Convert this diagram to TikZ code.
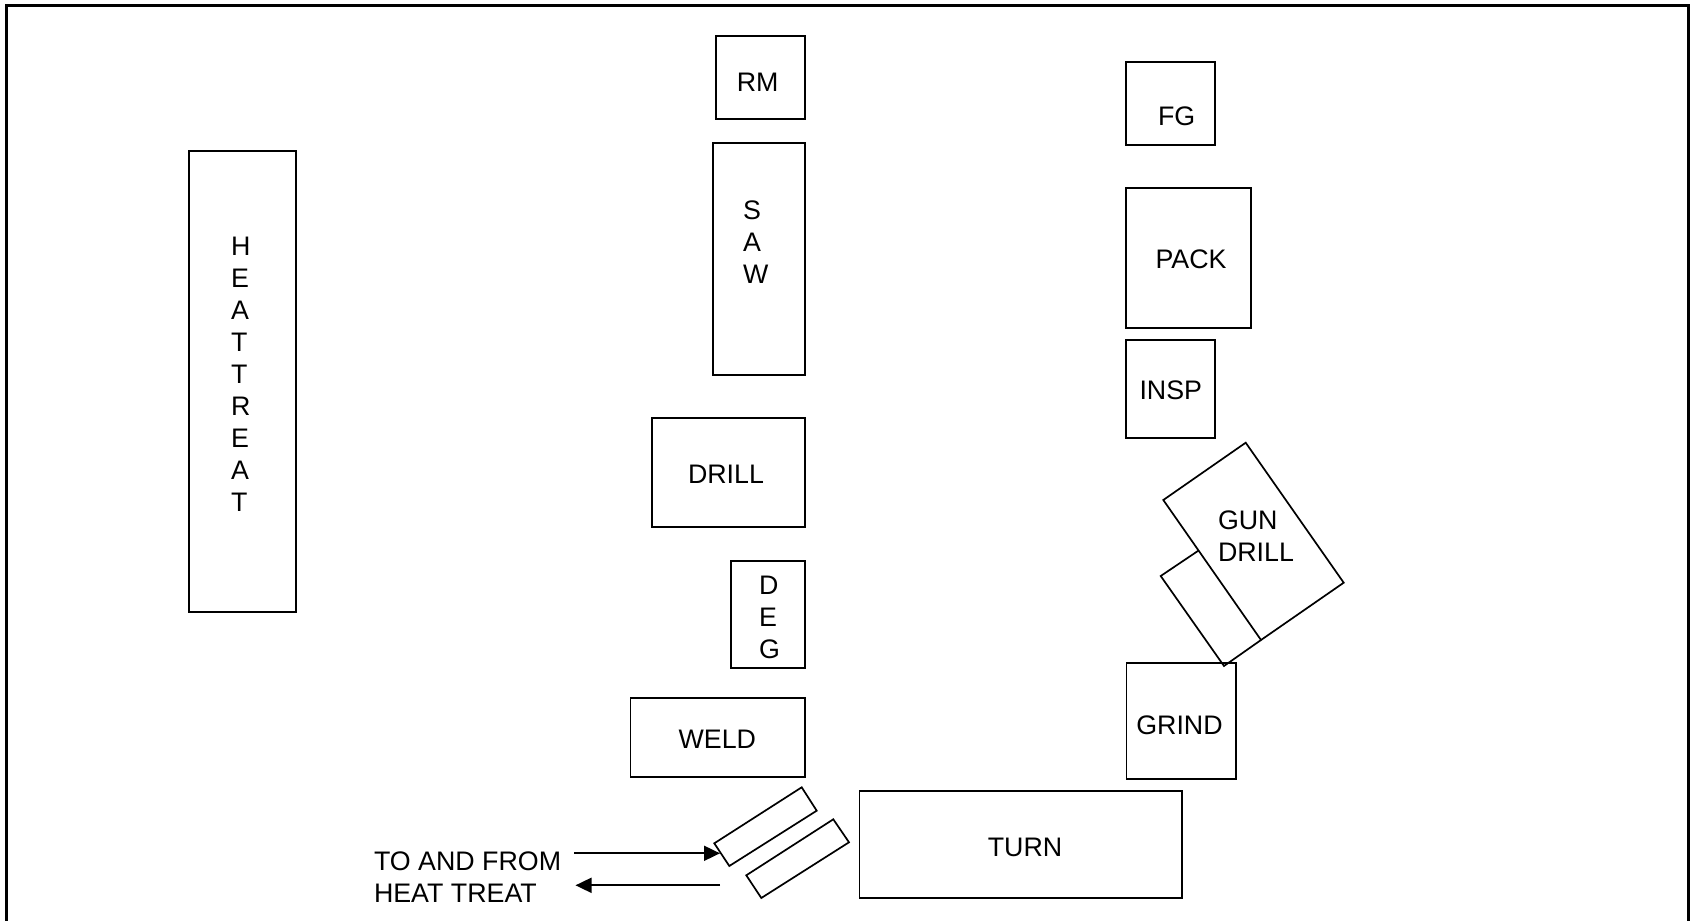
\documentclass[tikz,border=0pt]{standalone}
\usepackage{fontspec}
\setmainfont{Liberation Sans}
\usetikzlibrary{arrows.meta}
\tikzset{
  x=0.5pt,y=-0.5pt,
  box/.style={draw=black,line width=0.85pt,inner sep=0pt,outer sep=0pt,fill=none},
  lab/.style={inner sep=0pt,outer sep=0pt,align=center,font=\fontsize{13.4}{16}\selectfont,text=black},
  stack/.style={lab,align=left,anchor=west},
  outline/.style={draw=black,line width=0.85pt,line join=miter},
  flow/.style={draw=black,line width=0.9pt,-{Triangle[length=8pt,width=7.5pt]}},
}
\begin{document}
\begin{tikzpicture}
\useasboundingbox (0,0) rectangle (1693,921);
% frame (open at the bottom edge, cut by the page)
\draw[black,line width=1.3pt] (6.7,921) -- (6.7,5.5) -- (1688.3,5.5) -- (1688.3,921);
% boxes
\node[box,minimum width=44.5pt,minimum height=41.35pt] (rm) at (760.5,77.35) {};
\node[box,minimum width=46pt,minimum height=115.85pt] (saw) at (759,259.15) {};
\node[box,minimum width=53.5pt,minimum height=230.5pt] (heat) at (242.5,381.5) {};
\node[box,minimum width=44.5pt,minimum height=41.2pt] (fg) at (1170.5,103.5) {};
\node[box,minimum width=62.6pt,minimum height=70pt] (pack) at (1188.7,258) {};
\node[box,minimum width=44.5pt,minimum height=49pt] (insp) at (1170.5,389.3) {};
\node[box,minimum width=76.5pt,minimum height=54.8pt] (drill) at (728.5,472.5) {};
\node[box,minimum width=37.15pt,minimum height=53.5pt] (deg) at (767.85,614.2) {};
\node[box,minimum width=87.3pt,minimum height=39.35pt] (weld) at (717.7,737.35) {};
\node[box,minimum width=54.8pt,minimum height=58pt] (grind) at (1181.2,721) {};
\node[box,minimum width=161.3pt,minimum height=53.5pt] (turn) at (1020.7,844.7) {};
% labels
\node[lab] (trm) at (757.7,82) {RM};
\node[stack] (tsaw) at (743,242) {S\\A\\W};
\node[stack] (theat) at (231,374) {H\\E\\A\\T\\T\\R\\E\\A\\T};
\node[lab] (tfg) at (1176.7,116) {FG};
\node[lab] (tpack) at (1191,259) {PACK};
\node[lab] (tinsp) at (1170.8,390) {INSP};
\node[lab] (tdrill) at (726,474.5) {DRILL};
\node[stack] (tdeg) at (759,617) {D\\E\\G};
\node[lab] (tweld) at (717.3,739.7) {WELD};
\node[lab] (tgrind) at (1179.5,725) {GRIND};
\node[lab] (tturn) at (1025,847) {TURN};
\node[stack] (tgun) at (1218,536) {GUN\\DRILL};
\node[lab,align=left,anchor=base west] (theattreat) at (374,902.7) {TO AND FROM\\HEAT TREAT};
% gun drill
\draw[outline] (1245.7,442.7) -- (1343.7,582.7) -- (1261,640) -- (1163.3,500) -- cycle;
\draw[outline] (1198.3,550.7) -- (1160.7,576) -- (1224,666) -- (1261,640);
% slots
\draw[outline] (801.7,787.3) -- (816.7,810.7) -- (729.3,866) -- (714.3,843.3) -- cycle;
\draw[outline] (833.3,819.3) -- (849,842.3) -- (761.3,898) -- (746.3,875.3) -- cycle;
% arrows
\coordinate (a1s) at (574.3,853.3);
\coordinate (a1e) at (720,853.3);
\coordinate (a2s) at (720,885.3);
\coordinate (a2e) at (575.5,885.3);
\draw[flow] (a1s) -- (a1e);
\draw[flow] (a2s) -- (a2e);
\end{tikzpicture}
\end{document}
